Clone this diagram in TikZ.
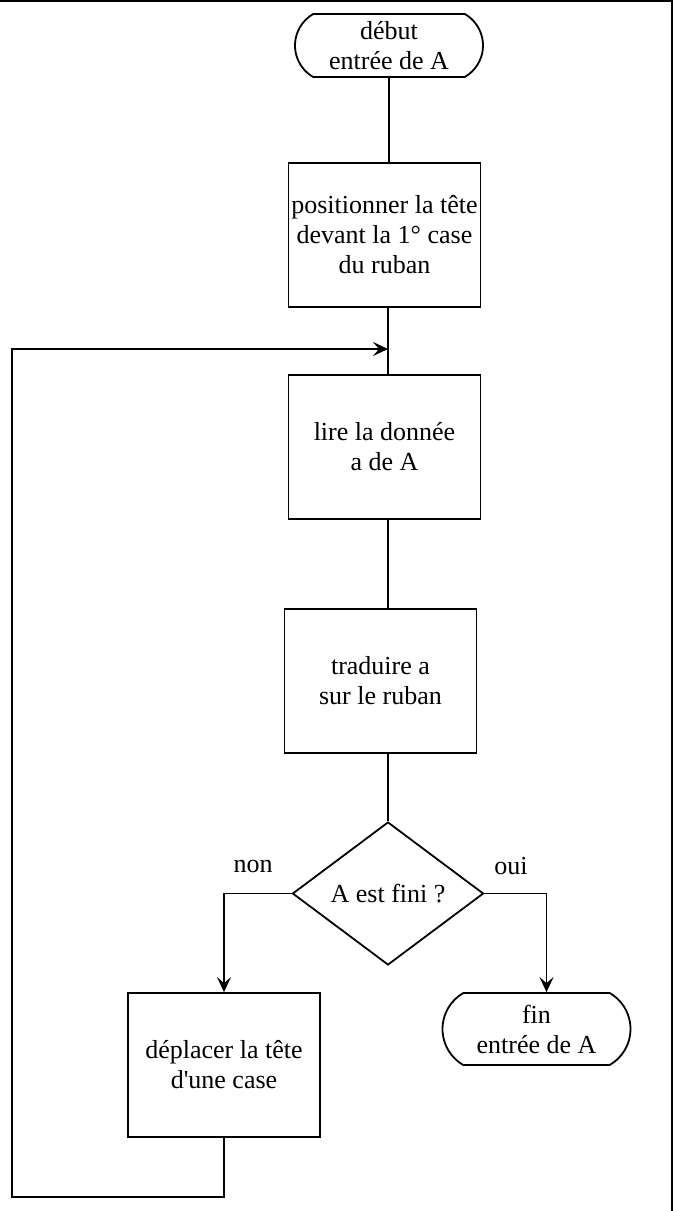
\documentclass[tikz,border=0pt]{standalone}
\usepackage{fontspec}
\setmainfont{Liberation Serif}
\usetikzlibrary{positioning, arrows.meta, calc, shapes.geometric, shapes.misc}

\begin{document}
\begin{tikzpicture}[x=0.5pt, y=-0.5pt, line width=0.9pt,
  every node/.style={font=\fontsize{13}{15}\selectfont, align=center},
  stepbox/.style={draw, minimum width=96pt, minimum height=72pt, inner sep=1pt},
  terminal/.style={draw, rounded rectangle, rounded rectangle arc length=120,
    minimum width=96pt, inner sep=1pt},
  test/.style={draw, diamond, aspect=1.33, minimum width=95.5pt, minimum height=71.5pt, inner sep=0pt},
  arrow/.style={-{Stealth[length=7.5pt, width=7pt, inset=3pt]}}]
  \useasboundingbox (0,0) rectangle (673,1211);
  % Frame (top and right)
  \draw[line width=1pt] (0,1) -- (672,1) -- (672,1211);
  % Main column
  \node[terminal, minimum height=31.5pt] (debut) at (389,45.5) {début\\entrée de A};
  \node[stepbox] (pos) at (384.5,235) {positionner la tête\\devant la 1° case\\du ruban};
  \node[stepbox] (lire) at (384.5,447) {lire la donnée\\a de A};
  \node[stepbox] (trad) at (380.5,681) {traduire a\\sur le ruban};
  \node[test] (fini) at (388,893.5) {A est fini ?};
  % Branches
  \node (non) at (253,866) {non};
  \node (oui) at (511,866) {oui};
  \node[stepbox] (depl) at (224,1065) {déplacer la tête\\d\textquotesingle une case};
  \node[terminal, minimum height=36pt] (fin) at (536.5,1029) {fin\\entrée de A};
  % Links down the column
  \coordinate (spine) at (388,0);
  \draw (debut.south) -- (debut.south |- pos.north);
  \draw (spine |- pos.south) -- (spine |- lire.north);
  \draw (spine |- lire.south) -- (spine |- trad.north);
  \draw (spine |- trad.south) -- (fini.north);
  % Decision outputs
  \draw[arrow] (fini.west) -| (depl.north);
  \draw[arrow] (fini.east) -| ([xshift=5pt]fin.north);
  % Loop back above "lire"
  \coordinate (loopin) at (388,349);
  \coordinate (loopbl) at (12,1197);
  \draw[arrow] (depl.south) -- (depl.south |- loopbl) -- (loopbl) |- (loopin);
\end{tikzpicture}
\end{document}
